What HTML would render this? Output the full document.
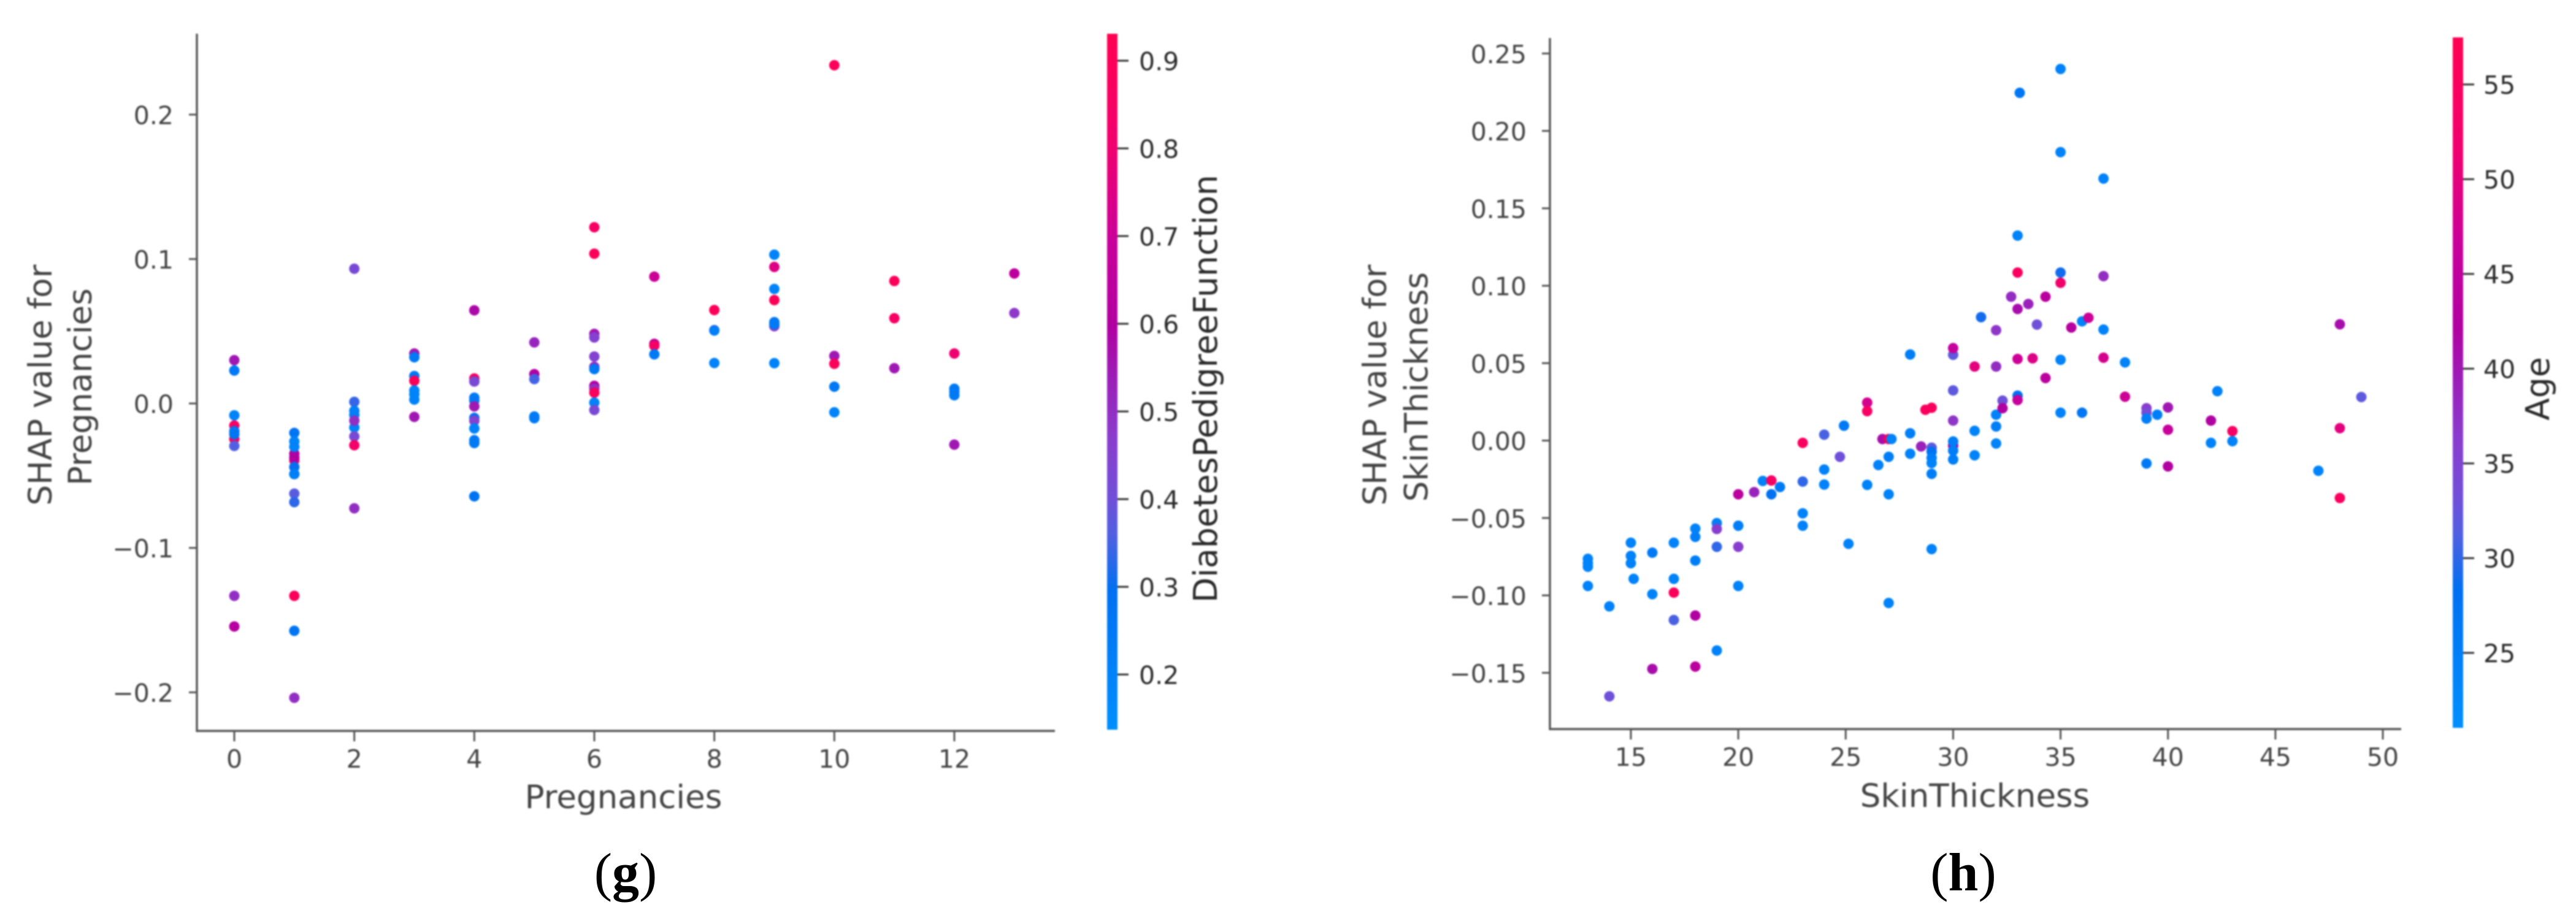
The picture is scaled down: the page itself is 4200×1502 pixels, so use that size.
<!DOCTYPE html>
<html lang="en">
<head>
<meta charset="utf-8">
<title>SHAP dependence plots</title>
<style>
  html, body { margin: 0; padding: 0; background: #fff; }
  svg { display: block; }
  text { font-family: "DejaVu Sans", "Liberation Sans", sans-serif; fill: #444; }
  .cap { font-family: "Liberation Serif", serif; fill: #000; font-size: 88px; }
  .soft { filter: blur(1.3px); }
  .softer { filter: blur(1.2px); }
</style>
</head>
<body>
<svg id="fig" xmlns="http://www.w3.org/2000/svg" width="4200" height="1502" viewBox="0 0 4200 1502">
  <defs>
    <linearGradient id="barGrad" x1="0" y1="1" x2="0" y2="0">
      <stop offset="0" stop-color="#008ffd"/>
      <stop offset="0.2" stop-color="#0070f0"/>
      <stop offset="0.28" stop-color="#5060e0"/>
      <stop offset="0.33" stop-color="#7050d8"/>
      <stop offset="0.42" stop-color="#8a3ccc"/>
      <stop offset="0.5" stop-color="#9a20b8"/>
      <stop offset="0.58" stop-color="#b000a0"/>
      <stop offset="0.7" stop-color="#c8009a"/>
      <stop offset="0.84" stop-color="#f0006e"/>
      <stop offset="1" stop-color="#ff0052"/>
    </linearGradient>
  </defs>
  <g id="panelG"></g>
  <g id="panelH"></g>
  <text class="cap" x="1020" y="1452" text-anchor="middle">(<tspan font-weight="bold">g</tspan>)</text>
  <text class="cap" x="3201" y="1452" text-anchor="middle">(<tspan font-weight="bold">h</tspan>)</text>
</svg>
<script>
// ---- Panel (g) data ----
const gXTicks = [0, 2, 4, 6, 8, 10, 12];
const gYTicks = [0.2, 0.1, 0, -0.1, -0.2];
const gYTickLabels = ["0.2", "0.1", "0.0", "\u22120.1", "\u22120.2"];
const gBarTicks = [0.9, 0.8, 0.7, 0.6, 0.5, 0.4, 0.3, 0.2];
const gBarTickLabels = ["0.9", "0.8", "0.7", "0.6", "0.5", "0.4", "0.3", "0.2"];
const gPregnancies = [
  0,0,0,0,0,0,0,0,0,0,
  1,1,1,1,1,1,1,1,1,1,1,1,1,1,
  2,2,2,2,2,2,2,2,2,
  3,3,3,3,3,3,3,3,
  4,4,4,4,4,4,4,4,4,4,4,4,
  5,5,5,5,5,
  6,6,6,6,6,6,6,6,6,6,6,6,
  7,7,7,7,
  8,8,8,8,
  9,9,9,9,9,9,9,9,
  10,10,10,10,10,
  11,11,11,
  12,12,12,12,12,
  13,13
];
const gShap = [
  .030,.0228,-.0082,-.0153,-.0246,-.0192,-.0213,-.0294,-.1332,-.1544,
  -.0394,-.0348,-.0374,-.0204,-.0263,-.030,-.0489,-.044,-.0489,-.0624,-.0683,-.1332,-.1574,-.2038,
  .0933,.0011,-.0051,-.0079,-.0166,-.0119,-.0228,-.0289,-.0726,
  .0346,.032,.019,.0157,.009,.0063,.0027,-.0093,
  .0645,.0173,.0152,.004,.002,-.002,-.010,-.012,-.0173,-.0254,-.0274,-.0643,
  .0423,.0203,.0169,-.009,-.0102,
  .122,.1037,.0482,.0457,.0325,.0254,.0238,.0122,.0102,.0075,.0006,-.0045,
  .0878,.0413,.04,.034,
  .0647,.0508,.0505,.028,
  .103,.0945,.0793,.0716,.0535,.0563,.055,.0279,
  .2342,.0329,.0275,.0116,-.0061,
  .0848,.059,.0244,
  .0346,.0102,.0081,.0057,-.0285,
  .09,.0626
];
const gDpf = [
  .55,.25,.2,.85,.88,.27,.27,.36,.5,.62,
  .8,.6,.6,.27,.2,.2,.4,.3,.22,.37,.33,.9,.27,.5,
  .42,.34,.22,.22,.2,.5,.42,.83,.5,
  .55,.25,.25,.9,.2,.2,.2,.55,
  .58,.85,.42,.25,.25,.55,.3,.45,.2,.25,.25,.28,
  .52,.6,.35,.25,.25,
  .85,.9,.55,.45,.45,.5,.25,.6,.5,.88,.2,.42,
  .7,.6,.85,.25,
  .9,.4,.22,.2,
  .2,.75,.2,.9,.45,.25,.25,.2,
  .9,.55,.9,.25,.2,
  .9,.85,.55,
  .8,.25,.25,.25,.55,
  .65,.48
];

// ---- Panel (h) data ----
const hXTicks = [15, 20, 25, 30, 35, 40, 45, 50];
const hYTicks = [0.25, 0.2, 0.15, 0.1, 0.05, 0, -0.05, -0.1, -0.15];
const hYTickLabels = ["0.25", "0.20", "0.15", "0.10", "0.05", "0.00", "\u22120.05", "\u22120.10", "\u22120.15"];
const hBarTicks = [55, 50, 45, 40, 35, 30, 25];
const hBarTickLabels = ["55", "50", "45", "40", "35", "30", "25"];
const hThickness = [
  13,13,13,13,14,14,15,15,15,15.13,16,16,16,
  17,17,17,17,18,18,18,18,18,19,19,19,19,20,20,20,20,
  20.74,21.14,21.54,21.54,21.94,23,23,23,23,
  24,24,24,24.73,24.92,25.13,
  26,26,26,26.52,26.71,27,27.13,27,27,27,
  28,28,28,28.51,28.71,29,29,29,29,29,29,29,
  30,30,30,30,30,30,30,30,
  31,31,31,31.3,
  32,32,32,32,32,32.3,32.3,32.7,
  33,33,33,33,33,33,33.1,33.5,33.7,33.9,
  34.3,34.3,35,35,35,35,35,35,35.5,36,36,36.3,
  37,37,37,37,38,38,39,39,39,39,39.5,40,40,40,
  42,42,42.3,43,43,47,48,48,48,49
];
const hShap = [
  -.0764,-.0792,-.0815,-.0939,-.1071,-.1652,-.066,-.0745,-.0792,-.0893,-.0724,-.0992,-.1475,
  -.066,-.0893,-.0982,-.1159,-.0569,-.0622,-.0775,-.113,-.146,-.0533,-.0571,-.0686,-.1356,-.0347,-.055,-.0686,-.0939,
  -.0333,-.0261,-.0258,-.0347,-.03,-.0265,-.047,-.055,-.0015,
  .0038,-.0187,-.0284,-.0105,.0096,-.0667,
  .0245,.019,-.0286,-.0158,.001,.001,.001,-.0105,-.0347,-.1049,
  .0556,.0047,-.0085,-.0038,.0199,.0212,-.0046,-.0072,-.0112,-.0145,-.0215,-.0701,
  .0554,.0597,.0324,.0129,-.0032,-.0006,-.0065,-.0122,
  .0478,.0063,-.0095,.0797,
  .0713,.0478,.0167,.0091,-.0019,.0258,.0209,.0929,
  .1324,.1085,.085,.0527,.029,.0262,.2246,.0882,.0531,.0749,
  .0929,.0404,.24,.1863,.1085,.1019,.0522,.018,.073,.077,.018,.0793,
  .1692,.1062,.0717,.0535,.0505,.0283,.0209,.018,.0142,-.0148,.0167,.0214,.007,-.0167,
  .0129,-.0015,.0319,.0061,-.0004,-.0195,.0751,.008,-.0371,.0281
];
const hAge = [
  24,24,24,24,24,33,24,24,24,24,26,24,41,
  24,24,56,31,24,25,25,42,44,25,36,30,24,44,25,36,24,
  39,24,54,28,26,30,24,24,55,
  31,24,24,33,26,24,
  48,54,24,24,41,56,24,25,24,24,
  25,25,24,39,55,55,32,28,25,24,25,24,
  32,46,32,37,43,25,25,25,
  50,24,24,29,
  37,38,24,25,24,33,42,38,
  24,55,41,47,28,46,27,39,49,33,
  44,44,24,24,29,52,24,24,43,24,27,47,
  24,38,24,48,24,47,36,34,25,26,25,40,46,42,
  42,24,24,54,24,24,41,50,55,32
];

// ---- Scales ----
function xG(v) { return 382 + 97.83 * v; }
function yG(v) { return 658 - 2355.5 * v; }
function barG(v) { return 1100 - (v - 0.2) * 1430; }
function tG(v) { return (v - 0.137) / (0.93 - 0.137); }
function xH(v) { return 2659 + 35.03 * (v - 15); }
function yH(v) { return 718.5 - 2525 * v; }
function barH(v) { return 1064.7 - (v - 25) * 30.9; }
function tH(v) { return (v - 21) / (57.5 - 21); }

const colorStopT = [0, .2, .28, .33, .42, .5, .58, .7, .84, 1];
const colorStopRGB = [[0,143,253],[0,112,240],[80,96,224],[112,80,216],[138,60,204],[154,32,184],[176,0,160],[200,0,154],[240,0,110],[255,0,82]];
function ramp(t) {
  t = Math.max(0, Math.min(1, t));
  for (let i = 1; i < colorStopT.length; i++) {
    if (t <= colorStopT[i]) {
      const f = (t - colorStopT[i - 1]) / (colorStopT[i] - colorStopT[i - 1]);
      const a = colorStopRGB[i - 1], b = colorStopRGB[i];
      return "rgb(" + Math.round(a[0] + (b[0] - a[0]) * f) + "," + Math.round(a[1] + (b[1] - a[1]) * f) + "," + Math.round(a[2] + (b[2] - a[2]) * f) + ")";
    }
  }
  return "rgb(255,0,82)";
}

const NS = "http://www.w3.org/2000/svg";
function mk(parent, tag, attrs, txt) {
  const el = document.createElementNS(NS, tag);
  for (const k in attrs) el.setAttribute(k, attrs[k]);
  if (txt !== undefined) el.textContent = txt;
  parent.appendChild(el);
  return el;
}

function drawPanel(root, o) {
  const axes = mk(root, "g", { "class": "softer" });
  
  

  const sp1 = mk(axes, "line", { x1: o.left, y1: o.top, x2: o.left, y2: o.bottom + 1.7, stroke: "#555", "stroke-width": 3.4 });
  
  
  const sp2 = mk(axes, "line", { x1: o.left, y1: o.bottom, x2: o.right, y2: o.bottom, stroke: "#555", "stroke-width": 3.4 });
  
  

  o.xTicks.forEach(function (v) {
    const tk = mk(axes, "line", { x1: o.x(v), y1: o.bottom, x2: o.x(v), y2: o.bottom + 17, stroke: "#555", "stroke-width": 3 });
    
    
    const lb = mk(axes, "text", { x: o.x(v), y: o.xTickBase, "text-anchor": "middle", "font-size": 41 }, String(v));
    
    
  });
  o.yTicks.forEach(function (v, i) {
    const tk = mk(axes, "line", { x1: o.left - 13, y1: o.y(v), x2: o.left, y2: o.y(v), stroke: "#555", "stroke-width": 3 });
    
    
    const lb = mk(axes, "text", { x: o.left - 38, y: o.y(v) + 15.5, "text-anchor": "end", "font-size": 41 }, o.yLabels[i]);
    
    
  });

  const xl = mk(axes, "text", { x: o.xLabelX, y: o.xLabelY, "text-anchor": "middle", "font-size": 53 }, o.xLabel);
  
  
  const yl1 = mk(axes, "text", { transform: "translate(" + o.yl1 + "," + o.ylc + ") rotate(-90)", "text-anchor": "middle", "font-size": 53 }, "SHAP value for");
  
  
  const yl2 = mk(axes, "text", { transform: "translate(" + o.yl2 + "," + (o.ylc + 3) + ") rotate(-90)", "text-anchor": "middle", "font-size": 53 }, o.xLabel);
  
  

  const dots = mk(root, "g", { "class": "soft" });
  
  
  o.px.forEach(function (v, i) {
    const c = mk(dots, "circle", { cx: o.x(v), cy: o.y(o.py[i]), r: 8.5, fill: ramp(o.t(o.pc[i])) });
    
    
  });

  const bar = mk(root, "g", { "class": "softer" });
  
  
  const rc = mk(bar, "rect", { x: o.barX, y: o.barTop, width: o.barW, height: o.barBottom - o.barTop, fill: "url(#barGrad)" });
  
  
  o.barTicks.forEach(function (v, i) {
    const tk = mk(bar, "line", { x1: o.barX + o.barW, y1: o.bar(v), x2: o.barX + o.barW + 18, y2: o.bar(v), stroke: "#333", "stroke-width": 3 });
    
    
    const lb = mk(bar, "text", { x: o.barLabelX, y: o.bar(v) + 15.5, "font-size": 41, style: "fill:#2a2a2a" }, o.barLabels[i]);
    
    
  });
  const bt = mk(bar, "text", { transform: "translate(" + o.barTitleX + "," + o.barTitleY + ") rotate(-90)", "text-anchor": "middle", "font-size": 53.5, style: "fill:#2a2a2a" }, o.barTitle);
  
  
}

drawPanel(document.getElementById("panelG"), {
  x: xG, y: yG, t: tG, bar: barG,
  px: gPregnancies, py: gShap, pc: gDpf,
  xTicks: gXTicks, yTicks: gYTicks, yLabels: gYTickLabels,
  barTicks: gBarTicks, barLabels: gBarTickLabels,
  left: 321, right: 1720, top: 55, bottom: 1192,
  xTickBase: 1252, xLabel: "Pregnancies", xLabelX: 1016.5, xLabelY: 1318,
  yl1: 84, yl2: 149, ylc: 628,
  barX: 1805, barW: 17, barTop: 55, barBottom: 1190, barLabelX: 1857,
  barTitle: "DiabetesPedigreeFunction", barTitleX: 1984, barTitleY: 634
});
drawPanel(document.getElementById("panelH"), {
  x: xH, y: yH, t: tH, bar: barH,
  px: hThickness, py: hShap, pc: hAge,
  xTicks: hXTicks, yTicks: hYTicks, yLabels: hYTickLabels,
  barTicks: hBarTicks, barLabels: hBarTickLabels,
  left: 2527, right: 3915, top: 62, bottom: 1189,
  xTickBase: 1249, xLabel: "SkinThickness", xLabelX: 3220, xLabelY: 1316,
  yl1: 2260, yl2: 2327.5, ylc: 628,
  barX: 3999, barW: 17, barTop: 61, barBottom: 1187, barLabelX: 4049,
  barTitle: "Age", barTitleX: 4156, barTitleY: 634
});
</script>
</body>
</html>
